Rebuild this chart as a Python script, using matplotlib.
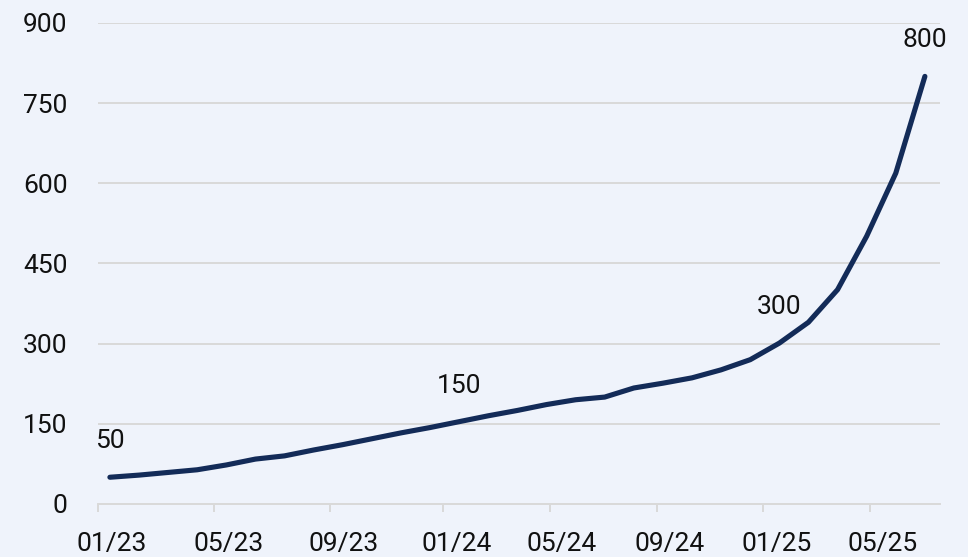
import matplotlib.pyplot as plt
import numpy as np

# Monthly values, 01/23 .. 05/25
months = np.arange(29)
values = [50, 54, 59, 64, 73, 84, 90, 101, 111, 122, 133, 143, 154, 165,
          175, 186, 195, 200, 217, 226, 236, 251, 270, 301, 340, 401, 501,
          619, 800]

# labelled points (index into values, text)
label_idx = [0, 12, 23, 28]
label_txt = ['50', '150', '300', '800']

# x axis: tick mark positions and label positions (month units)
tick_pos = [-0.41, 3.57, 7.56, 11.44, 15.12, 18.80, 22.44, 26.12]
tick_lbl_pos = [0.07, 4.09, 8.04, 11.92, 15.53, 19.24, 22.89, 26.53]
tick_lbl = ['01/23', '05/23', '09/23', '01/24', '05/24', '09/24', '01/25', '05/25']

bg = '#eff3fb'
navy = '#132b58'
grid = '#d9d9d9'
txt = '#111111'
fs = 19

plt.rcParams['font.family'] = ['Roboto', 'DejaVu Sans']

fig = plt.figure(figsize=(9.68, 5.57), dpi=100, facecolor=bg)
ax = fig.add_axes([0.1012, 0.0952, 0.8699, 0.8636], facecolor=bg)

ax.plot(months, values, color=navy, lw=3.7, solid_capstyle='round',
        solid_joinstyle='round', zorder=3)

for i, t in zip(label_idx, label_txt):
    ax.annotate(t, (months[i], values[i]), xytext=(0, 26), textcoords='offset points',
                ha='center', va='center', fontsize=fs, color=txt)

ax.set_xlim(-0.41, 28.52)
ax.set_ylim(0, 900)
ax.set_yticks(np.arange(0, 901, 150))
ax.yaxis.grid(True, color=grid, lw=1.4)
ax.set_axisbelow(True)

ax.set_xticks(tick_pos)
ax.set_xticklabels([])
ax.set_xticks(tick_lbl_pos, minor=True)
ax.set_xticklabels(tick_lbl, minor=True)
ax.tick_params(axis='x', which='major', length=6, width=1.4, color=grid)
ax.tick_params(axis='x', which='minor', length=0, pad=20, labelsize=fs,
               labelcolor=txt)
ax.tick_params(axis='y', length=0, pad=22, labelsize=fs, labelcolor=txt)

for s in ['top', 'right', 'left']:
    ax.spines[s].set_visible(False)
ax.spines['bottom'].set_color(grid)
ax.spines['bottom'].set_linewidth(1.4)

fig.savefig('out.png', dpi=100, facecolor=bg)
